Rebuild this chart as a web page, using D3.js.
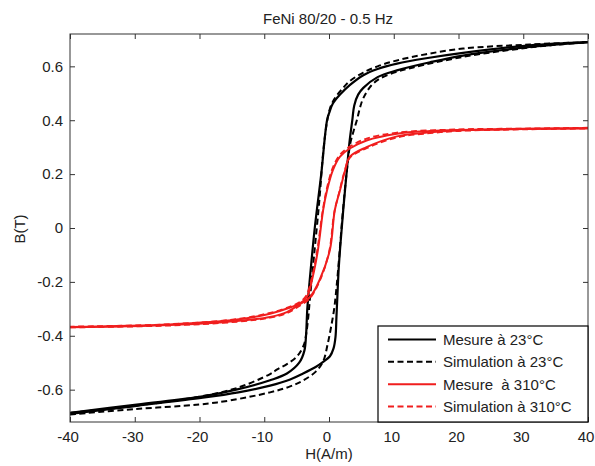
<!DOCTYPE html>
<html>
<head>
<meta charset="utf-8">
<script src="https://cdn.jsdelivr.net/npm/d3@7"></script>
<style>
  html, body { margin: 0; padding: 0; background: #fff; }
  svg { display: block; }
  text { font-family: "Liberation Sans", Arial, sans-serif; fill: #222; }
</style>
</head>
<body>
<script>
// ---- Data (H in A/m, B in T) ----
const title = "FeNi 80/20 - 0.5 Hz";
const xLabel = "H(A/m)";
const yLabel = "B(T)";
const xTicks = [-40, -30, -20, -10, 0, 10, 20, 30, 40];
const yTicks = [-0.6, -0.4, -0.2, 0, 0.2, 0.4, 0.6];
const legendLabels = ["Mesure à 23°C", "Simulation à 23°C", "Mesure  à 310°C", "Simulation à 310°C"];

// Measured 23°C, descending branch
const mes23Down = [[40,0.690],[31,0.678],[20.7,0.650],[15,0.630],[10.5,0.610],[7.5,0.590],[5.3,0.567],[3.2,0.530],[1.7,0.495],[0.6,0.462],[0.1,0.432],[-0.3,0.400],[-1.2,0.200],[-2.2,0.000],[-3.0,-0.200],[-3.35,-0.300],[-3.55,-0.400],[-3.8,-0.455],[-4.6,-0.500],[-6.5,-0.540],[-9.1,-0.565],[-14,-0.598],[-19.5,-0.625],[-29.7,-0.655],[-40,-0.686]];
// Measured 23°C, ascending branch
const mes23Up = [[-40,-0.690],[-29.7,-0.660],[-19.5,-0.630],[-14,-0.610],[-9.1,-0.585],[-6,-0.562],[-4,-0.540],[-2,-0.515],[-0.9,-0.497],[0.15,-0.476],[0.7,-0.447],[1.0,-0.405],[1.15,-0.330],[1.3,-0.250],[1.5,-0.150],[1.8,-0.050],[2.2,0.067],[2.7,0.200],[3.2,0.326],[3.6,0.400],[3.9,0.455],[4.5,0.495],[5.3,0.520],[7.5,0.560],[10.5,0.585],[15.6,0.615],[20.7,0.640],[31,0.672],[40,0.690]];
// Simulation 23°C, descending branch
const sim23Down = [[40,0.690],[31,0.681],[20.7,0.666],[15,0.645],[10.5,0.622],[7.5,0.600],[5.3,0.577],[3.2,0.545],[2.0,0.515],[0.8,0.478],[0.1,0.440],[-0.4,0.380],[-0.9,0.280],[-1.5,0.100],[-2.3,-0.100],[-2.9,-0.250],[-3.2,-0.330],[-3.5,-0.390],[-3.9,-0.435],[-5.0,-0.478],[-6.5,-0.505],[-8.0,-0.525],[-9.1,-0.542],[-14,-0.592],[-20,-0.626],[-30,-0.660],[-40,-0.686]];
// Simulation 23°C, ascending branch
const sim23Up = [[-40,-0.692],[-30,-0.672],[-20,-0.655],[-15.3,-0.640],[-9.1,-0.610],[-6,-0.588],[-4,-0.566],[-2,-0.532],[-0.9,-0.495],[-0.2,-0.430],[0.3,-0.370],[0.8,-0.300],[1.2,-0.210],[1.6,-0.100],[2.1,0.050],[2.7,0.200],[3.3,0.315],[3.8,0.360],[4.3,0.400],[4.8,0.448],[5.3,0.482],[6.5,0.528],[7.9,0.555],[10.5,0.580],[13,0.596],[20.7,0.635],[31,0.670],[40,0.690]];
// Measured 310°C, descending branch
const mes310Down = [[40,0.370],[30,0.368],[20,0.364],[15.6,0.360],[10.5,0.350],[5.8,0.325],[3.2,0.295],[1.7,0.265],[0.6,0.215],[-0.3,0.140],[-0.9,0.067],[-1.7,-0.080],[-2.5,-0.180],[-3.4,-0.255],[-4.5,-0.280],[-6,-0.295],[-9.1,-0.318],[-14.2,-0.340],[-24.6,-0.358],[-40,-0.367]];
// Measured 310°C, ascending branch
const mes310Up = [[-40,-0.368],[-24.6,-0.360],[-14.2,-0.345],[-9.1,-0.330],[-6.5,-0.312],[-5,-0.290],[-2.9,-0.255],[-1.4,-0.190],[0.15,-0.080],[0.9,0.067],[1.7,0.140],[2.5,0.215],[3.2,0.264],[5.8,0.300],[10.5,0.340],[15.6,0.355],[20,0.362],[30,0.367],[40,0.370]];
// Simulation 310°C, descending branch
const sim310Down = [[40,0.372],[30,0.369],[20,0.366],[10.5,0.354],[5.8,0.332],[3.2,0.302],[1.7,0.272],[0.6,0.225],[-0.3,0.150],[-1.0,0.060],[-1.8,-0.080],[-2.6,-0.180],[-3.5,-0.250],[-4.5,-0.275],[-6,-0.292],[-9.1,-0.315],[-14.2,-0.338],[-24.6,-0.357],[-40,-0.366]];
// Simulation 310°C, ascending branch
const sim310Up = [[-40,-0.369],[-24.6,-0.362],[-14.2,-0.348],[-9.1,-0.333],[-6.5,-0.316],[-5,-0.296],[-3,-0.262],[-1.5,-0.200],[0.0,-0.090],[0.8,0.055],[1.6,0.135],[2.4,0.210],[3.2,0.260],[5.8,0.296],[10.5,0.336],[15.6,0.352],[20,0.360],[30,0.366],[40,0.369]];

// ---- Layout ----
const W = 595, H = 466;
const plot = { left: 70, right: 588, top: 34, bottom: 422 };

const svg = d3.select("body").append("svg").attr("width", W).attr("height", H);

const x = d3.scaleLinear().domain([-40, 40]).range([plot.left, plot.right]);
const y = d3.scaleLinear().domain([-0.72, 0.72]).range([plot.bottom, plot.top]);

svg.append("clipPath").attr("id", "clip").append("rect")
  .attr("x", plot.left).attr("y", plot.top)
  .attr("width", plot.right - plot.left).attr("height", plot.bottom - plot.top);

const line = d3.line().x(d => x(d[0])).y(d => y(d[1])).curve(d3.curveCatmullRom.alpha(0.5));

const series = [
  { data: [mes23Down, mes23Up], color: "#000", dash: null, width: 2.2 },
  { data: [sim23Down, sim23Up], color: "#000", dash: "6,3.5", width: 2 },
  { data: [mes310Down, mes310Up], color: "#f01e1e", dash: null, width: 2 },
  { data: [sim310Down, sim310Up], color: "#f01e1e", dash: "6,3.5", width: 1.8 }
];

const g = svg.append("g").attr("clip-path", "url(#clip)");
series.forEach(s => {
  s.data.forEach(br => {
    g.append("path").attr("d", line(br)).attr("fill", "none")
      .attr("stroke", s.color).attr("stroke-width", s.width)
      .attr("stroke-dasharray", s.dash)
      .attr("stroke-linejoin", "round");
  });
});

// Axes (inward ticks on all sides)
const axisColor = "#333";
const fmtX = d => String(d);
const fmtY = d => d === 0 ? "0" : d.toFixed(1);
const xb = svg.append("g").attr("transform", `translate(0,${plot.bottom})`)
  .call(d3.axisBottom(x).tickValues(xTicks).tickSizeInner(-5).tickSizeOuter(0).tickPadding(9).tickFormat(fmtX));
const xt = svg.append("g").attr("transform", `translate(0,${plot.top})`)
  .call(d3.axisTop(x).tickValues(xTicks).tickSizeInner(-5).tickSizeOuter(0).tickFormat(""));
const yl = svg.append("g").attr("transform", `translate(${plot.left},0)`)
  .call(d3.axisLeft(y).tickValues(yTicks).tickSizeInner(-5).tickSizeOuter(0).tickPadding(7).tickFormat(fmtY));
const yr = svg.append("g").attr("transform", `translate(${plot.right},0)`)
  .call(d3.axisRight(y).tickValues(yTicks).tickSizeInner(-5).tickSizeOuter(0).tickFormat(""));
[xb, xt, yl, yr].forEach(a => {
  a.select(".domain").remove();
  a.selectAll(".tick line").attr("stroke", axisColor);
  a.selectAll("text").attr("font-size", 15).attr("fill", "#222")
    .attr("font-family", '"Liberation Sans", Arial, sans-serif');
});
xb.selectAll(".tick text").attr("dx", -2.5);
svg.append("rect").attr("x", plot.left).attr("y", plot.top)
  .attr("width", plot.right - plot.left).attr("height", plot.bottom - plot.top)
  .attr("fill", "none").attr("stroke", axisColor).attr("stroke-width", 1);

// Title & labels
svg.append("text").attr("x", 328).attr("y", 24).attr("text-anchor", "middle")
  .attr("font-size", 15).text(title);
svg.append("text").attr("x", 329).attr("y", 459).attr("text-anchor", "middle")
  .attr("font-size", 15).text(xLabel);
svg.append("text").attr("transform", "translate(25,229) rotate(-90)").attr("text-anchor", "middle")
  .attr("font-size", 15).text(yLabel);

// Legend
const lg = svg.append("g");
const lx0 = 378, ly0 = 326, lw = plot.right - lx0, lh = plot.bottom - ly0;
lg.append("rect").attr("x", lx0).attr("y", ly0).attr("width", lw).attr("height", lh)
  .attr("fill", "#fff").attr("stroke", "#000").attr("stroke-width", 1.2);
const rowY = d3.scalePoint().domain(d3.range(legendLabels.length)).range([339.5, 406.5]);
legendLabels.forEach((lab, i) => {
  const s = series[i];
  const yy = rowY(i);
  lg.append("line").attr("x1", 388).attr("x2", 436).attr("y1", yy).attr("y2", yy)
    .attr("stroke", s.color).attr("stroke-width", s.width).attr("stroke-dasharray", s.dash);
  lg.append("text").attr("x", 443).attr("y", yy + 5.5).attr("font-size", 15)
    .style("white-space", "pre").text(lab);
});
</script>
</body>
</html>
